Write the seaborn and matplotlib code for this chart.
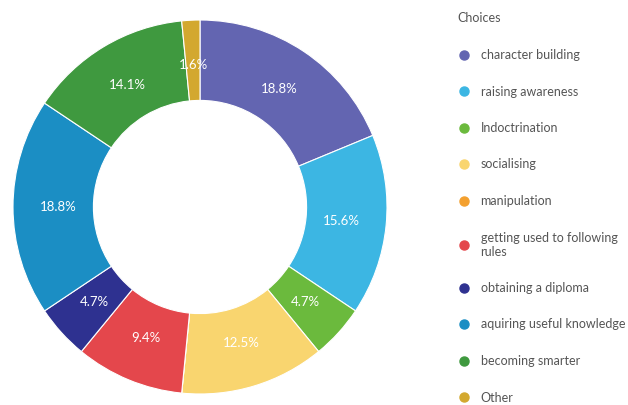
import matplotlib
matplotlib.use("Agg")
import matplotlib.pyplot as plt
from matplotlib.lines import Line2D
import seaborn as sns

# survey answers (counts out of 64 respondents)
choices = ["character building", "raising awareness", "Indoctrination", "socialising",
           "manipulation", "getting used to following\nrules", "obtaining a diploma",
           "aquiring useful knowledge", "becoming smarter", "Other"]
counts = [12, 10, 3, 8, 0, 6, 3, 12, 9, 1]
colors = ["#6365b1", "#3cb6e3", "#6bba3d", "#f9d56f", "#f3a02f",
          "#e4474c", "#2e3190", "#1b8ec4", "#3f993f", "#d3a82f"]

sns.set_theme(style="white")
plt.rcParams['font.family'] = ['Lato', 'DejaVu Sans']
pal = sns.color_palette(colors)

fig = plt.figure(figsize=(6.28, 4.05), dpi=100)
ax = fig.add_axes([13 / 628, (405 - 207 - 187) / 405, 374 / 628, 374 / 405])

def fmt(p):
    return "" if p == 0 else f"{p:.1f}%"

wedges, texts, autotexts = ax.pie(
    counts, colors=pal, startangle=90, counterclock=False,
    autopct=fmt, pctdistance=0.76,
    wedgeprops=dict(width=0.43, edgecolor="white", linewidth=0.8),
    textprops=dict(color="white", fontsize=9.5))
ax.set_xlim(-1, 1)
ax.set_ylim(-1, 1)
ax.set_aspect("equal")

handles = [Line2D([], [], marker="o", linestyle="", markersize=6.5,
                  markerfacecolor=c, markeredgecolor=c) for c in colors]
leg = fig.legend(handles, choices, title="Choices", loc="upper left",
                 bbox_to_anchor=(450 / 628, 1 - 5 / 405), frameon=False,
                 fontsize=9, title_fontsize=9, labelspacing=1.96,
                 handletextpad=0.75, handlelength=1.1, alignment="left",
                 borderaxespad=0.2)
for t in leg.get_texts():
    t.set_color("#555555")
leg.get_title().set_color("#555555")

fig.savefig("out.png", dpi=100, facecolor="white")
